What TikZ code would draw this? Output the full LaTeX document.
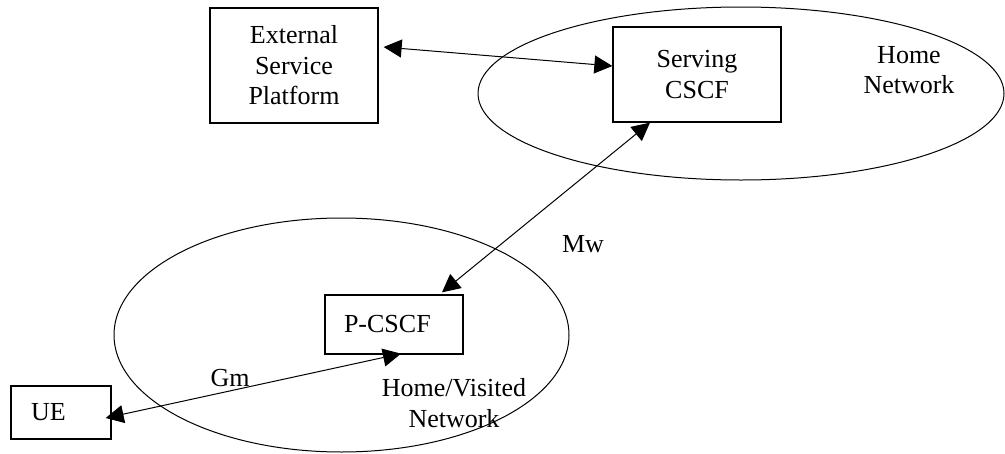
\documentclass[tikz,border=0pt]{standalone}
\usepackage{fontspec}
\setmainfont{Liberation Serif}
\usetikzlibrary{arrows.meta}
\usetikzlibrary{shapes.geometric}

\begin{document}
\begin{tikzpicture}
    [x=1pt,y=-1pt,font=\fontsize{26}{30.5}\selectfont,
    box/.style={rectangle,draw=black,line width=1.3pt,inner sep=0pt,align=center},
    region/.style={ellipse,draw=black,line width=1pt,inner sep=0pt},
    tag/.style={inner sep=0pt,align=center},
    link/.style={line width=1pt,
      {Triangle[length=18pt,width=18pt]}-{Triangle[length=18pt,width=18pt]}}]

    \useasboundingbox (0,0) rectangle (1005,453);

    % network areas
    \node[region] (home net)  at (741,93.5)  [minimum width=526pt,minimum height=173pt] {};
    \node[region] (visit net) at (341.5,335) [minimum width=455pt,minimum height=234pt] {};

    \node[box] (platform) at (294,65.5)  [minimum width=168pt,minimum height=115pt] {External\\Service\\Platform};
    \node[box] (serving)  at (697,74.5)  [minimum width=168pt,minimum height=95pt]  {Serving\\CSCF};
    \node[box] (pcscf)    at (394,324.5) [minimum height=59pt,text width=100pt,inner xsep=19pt,align=left] {P-CSCF};
    \node[box] (ue)       at (61,412.5)  [minimum height=53pt,text width=60pt,inner xsep=20pt,align=left]  {UE};

    \node[tag] (home lbl)  at (909,70)  {Home\\Network};
    \node[tag] (visit lbl) at (454,403) {Home/Visited\\Network};
    \node[tag] (mw lbl)    at (583,244.5) {Mw};
    \node[tag] (gm lbl)    at (230,378.5) {Gm};

    \draw[link] ([xshift=5pt,yshift=18.5pt]platform.east) -- ([yshift=8.5pt]serving.west);
    \draw[link] ([xshift=-47pt]serving.south) -- ([xshift=48pt,yshift=2pt]pcscf.north);
    \draw[link] ([xshift=-6pt,yshift=-5.5pt]ue.east) -- ([xshift=7pt,yshift=1pt]pcscf.south);

  \end{tikzpicture}
\end{document}
